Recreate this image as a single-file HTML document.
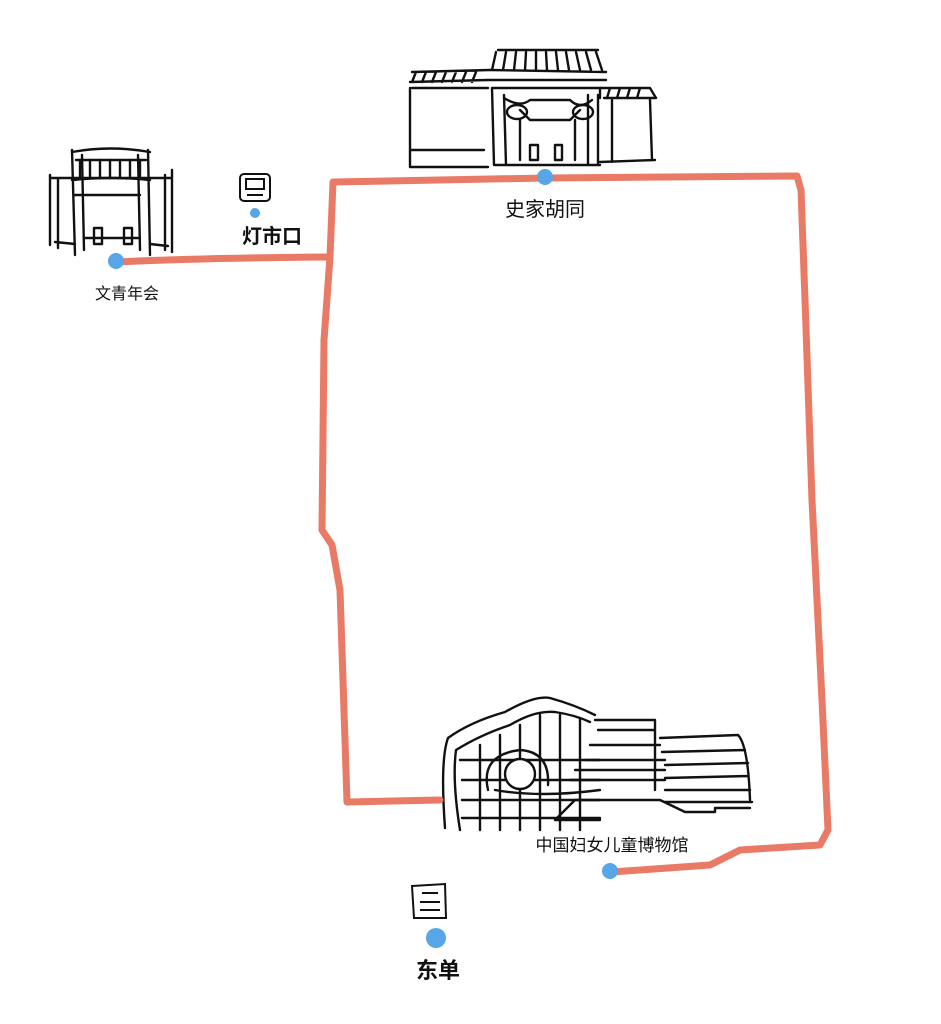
<!DOCTYPE html>
<html><head><meta charset="utf-8"><style>
html,body{margin:0;padding:0;background:#fff;width:941px;height:1024px;overflow:hidden}
svg{display:block}
text{font-family:"Liberation Sans","Noto Sans CJK SC",sans-serif;fill:#111}
</style></head><body>
<svg width="941" height="1024" viewBox="0 0 941 1024">
<g fill="none" stroke="#111" stroke-width="2.4" stroke-linecap="round" stroke-linejoin="round">
<!-- 文青年会 gate -->
<path d="M50 175 L50 245 M58 178 L58 248 M50 178 L172 178 M172 170 L172 252 M165 175 L165 250"/>
<path d="M72 150 L75 255 M82 155 L84 250 M138 155 L140 250 M148 150 L150 255"/>
<path d="M72 152 Q110 145 150 152 M76 160 L146 160 M72 180 Q110 176 150 180 M75 195 L140 195"/>
<path d="M80 160 L80 178 M90 160 L90 178 M100 160 L100 178 M110 160 L110 178 M120 160 L120 178 M130 160 L130 178 M140 160 L140 178"/>
<path d="M55 242 L75 244 M150 244 L168 246 M94 228 L94 244 L102 244 L102 228 Z M124 228 L124 244 L132 244 L132 228 Z M84 238 L140 238"/>
<!-- 史家胡同 -->
<path d="M412 72 L490 70 M410 82 L488 80 M416 72 L412 82 M426 72 L422 82 M436 72 L432 82 M446 72 L442 82 M456 72 L452 82 M466 72 L462 82 M476 72 L472 82"/>
<path d="M410 88 L410 167 L488 167 M410 150 L484 150 M412 88 L488 88"/>
<path d="M498 50 L598 50 M490 70 L606 72 M496 52 L492 70 M506 52 L503 70 M516 52 L514 70 M526 52 L525 70 M536 52 L536 70 M546 52 L547 70 M556 52 L558 70 M566 52 L569 70 M576 52 L580 70 M586 52 L591 70 M596 52 L602 70"/>
<path d="M488 80 L606 80 M492 88 L600 88 L600 98 M492 88 L494 165 M504 95 L506 165 M588 95 L588 165 M598 95 L598 165 M494 165 L600 165"/>
<path d="M504 98 Q520 108 530 100 L570 100 Q580 110 592 100 M520 110 L530 120 L570 120 L580 110 M520 120 L520 160 M575 120 L575 160"/>
<ellipse cx="517" cy="112" rx="10" ry="7"/><ellipse cx="583" cy="112" rx="10" ry="7"/>
<path d="M530 145 L530 160 L538 160 L538 145 Z M555 145 L555 160 L562 160 L562 145 Z"/>
<path d="M600 88 L650 88 L656 98 M604 98 L656 98 M610 88 L607 98 M620 88 L617 98 M630 88 L627 98 M640 88 L637 98 M612 100 L612 162 M650 100 L652 160 M600 162 L655 160"/>
<!-- museum -->
<path d="M445 828 Q440 760 448 738 Q470 722 505 712 Q535 695 550 698 Q575 705 595 715"/>
<path d="M460 830 Q452 780 456 750 Q480 735 510 725 Q535 710 555 712 Q575 715 590 722"/>
<path d="M460 760 L600 760 M462 780 L600 780 M462 800 L600 800 M462 818 L600 818 M480 745 L480 830 M500 735 L500 830 M520 725 L520 830 M540 715 L540 830 M560 715 L560 830 M580 718 L580 830"/>
<circle cx="520" cy="774" r="15" fill="#fff"/>
<path d="M488 790 Q480 755 520 750 Q550 752 548 785"/>
<path d="M495 790 Q540 798 600 790"/>
<path d="M595 720 L655 720 L655 790 M598 730 L655 730 M590 745 L660 745 M585 760 L665 760 M575 770 L665 770 M570 780 L665 780"/>
<path d="M660 738 L738 735 Q748 745 750 800 M662 752 L745 750 M665 765 L748 763 M665 778 L748 776 M665 790 L750 790 M665 802 L752 802"/>
<path d="M555 820 L575 800 L660 800 L685 812 L715 812 L715 808 L750 808 M555 820 L600 820"/>
</g>
<!-- route -->
<g fill="none" stroke="#e97a65" stroke-width="7" stroke-linecap="round" stroke-linejoin="round">
<path d="M116 262 Q200 258 330 257"/>
<path d="M330 257 L333 182 L545 178 L797 176 L801 190 L805 300 L812 500 L822 700 L828 830 L820 845 L740 850 L710 865 L612 872"/>
<path d="M330 257 L324 340 L322 530 L332 545 L340 590 L347 802 L440 800"/>
</g>
<!-- icons -->
<g fill="none" stroke="#111" stroke-width="2">
<rect x="240" y="174" width="30" height="27" rx="4"/>
<rect x="246" y="179" width="18" height="10"/>
<path d="M247 195 L263 195"/>
<path d="M412 886 L445 884 L446 918 L414 918 Z"/>
<path d="M422 893 L438 893 M420 902 L440 902 M420 910 L440 910"/>
</g>
<g fill="#56a6e8">
<circle cx="116" cy="261" r="8"/><circle cx="255" cy="213" r="5"/><circle cx="545" cy="177" r="8"/>
<circle cx="610" cy="871" r="8"/><circle cx="436" cy="938" r="10"/>
</g>
<text x="127" y="299" font-size="16" text-anchor="middle">文青年会</text>
<text x="272" y="243" font-size="20" font-weight="bold" text-anchor="middle">灯市口</text>
<text x="545" y="216" font-size="20" text-anchor="middle">史家胡同</text>
<text x="612" y="851" font-size="17" text-anchor="middle">中国妇女儿童博物馆</text>
<text x="438" y="978" font-size="22" font-weight="bold" text-anchor="middle">东单</text>
</svg>
</body></html>
